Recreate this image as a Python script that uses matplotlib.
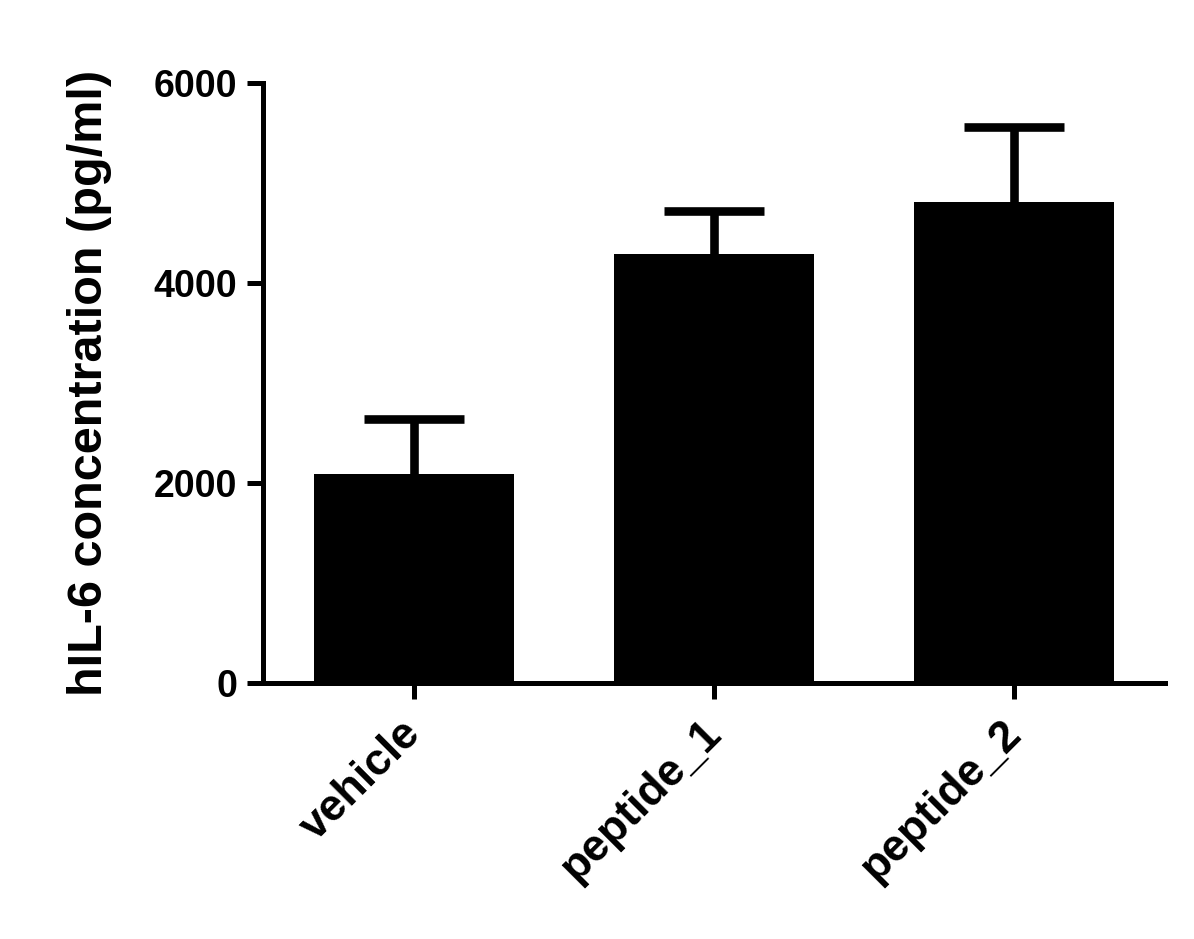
import matplotlib.pyplot as plt
import matplotlib.transforms as mtransforms

groups = ['vehicle', 'peptide_1', 'peptide_2']
means = [2090, 4290, 4810]
errs = [550, 430, 750]
yticks = [0, 2000, 4000, 6000]

plt.rcParams['font.family'] = ['Liberation Sans', 'DejaVu Sans']
plt.rcParams['font.weight'] = 'bold'

fig = plt.figure(figsize=(11.94, 9.39), dpi=100)
ax = fig.add_axes([263 / 1194, 256 / 939, 902 / 1194, 600 / 939])

x = range(len(groups))
ax.bar(x, means, width=0.667, color='black', zorder=2)
# only the upper half of the error bar is shown
eb = ax.errorbar(x, means, yerr=[[0] * len(errs), errs], fmt='none', ecolor='black',
                 elinewidth=6.2, capsize=36, capthick=6.2, zorder=1)
eb[1][0].set_visible(False)

ax.set_xlim(-0.503, 2.503)
ax.set_ylim(0, 6000)
ax.set_yticks(yticks)
ax.set_xticks(list(x))
ax.set_xticklabels(groups, rotation=45, ha='right', rotation_mode='anchor', fontsize=32)
ax.set_ylabel('hIL-6 concentration (pg/ml)', fontsize=35, fontweight='bold', labelpad=30)

for s in ['top', 'right']:
    ax.spines[s].set_visible(False)
for s in ['left', 'bottom']:
    ax.spines[s].set_linewidth(3.6)
ax.tick_params(axis='both', length=11.5, width=3.6, pad=7)
ax.tick_params(axis='y', labelsize=27)
ax.tick_params(axis='x', pad=12)

shift = mtransforms.ScaledTranslation(-10 / 72, 2 / 72, fig.dpi_scale_trans)
for lab in ax.get_xticklabels():
    lab.set_transform(lab.get_transform() + shift)

fig.savefig('out.png', dpi=100)
